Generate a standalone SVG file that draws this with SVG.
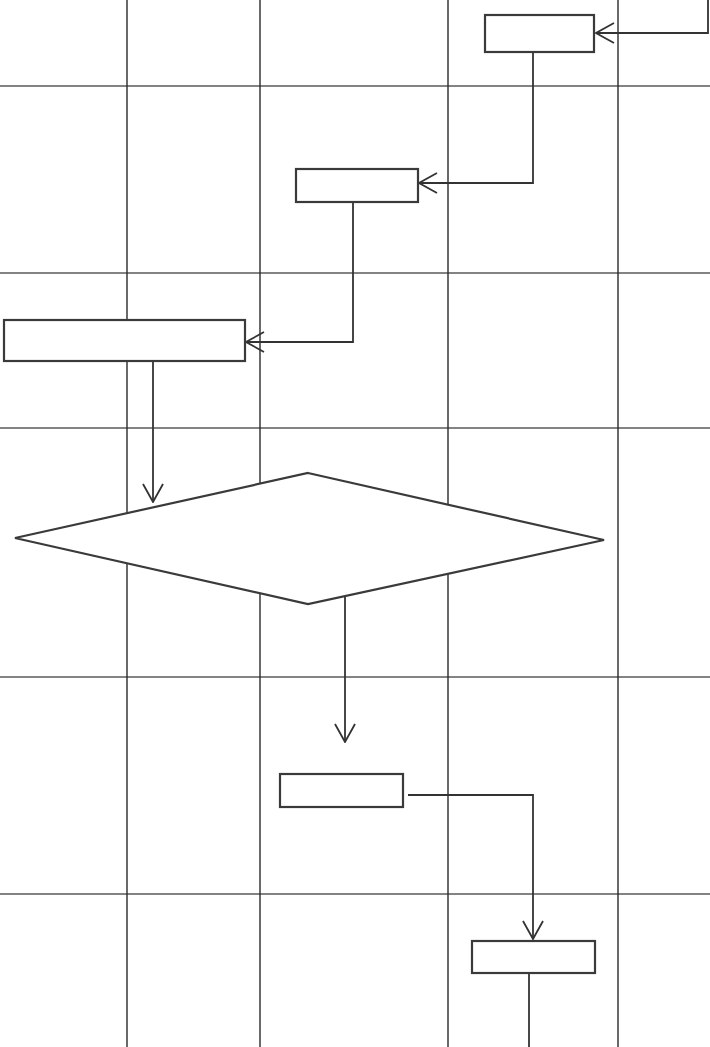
<svg xmlns="http://www.w3.org/2000/svg" width="710" height="1047" viewBox="0 0 710 1047">
<style>
.vg{stroke:#2a2a2a;stroke-width:1.4;fill:none}
.hg{stroke:#5a5a5a;stroke-width:1.3;fill:none}
.node{fill:#ffffff;stroke:#3a3a3a;stroke-width:2.2}
.conn{stroke:#333333;stroke-width:1.8;fill:none}
</style>
<defs>
<marker id="arr" viewBox="0 0 20 22" refX="19" refY="11" markerWidth="20" markerHeight="22" markerUnits="userSpaceOnUse" orient="auto">
<path d="M1,1 L19,11 L1,21" fill="none" stroke="#333333" stroke-width="1.8"/>
</marker>
</defs>
<rect width="710" height="1047" fill="#ffffff"/>
<g id="grid">
<line class="hg" x1="0" y1="86" x2="710" y2="86"/>
<line class="hg" x1="0" y1="273" x2="710" y2="273"/>
<line class="hg" x1="0" y1="428" x2="710" y2="428"/>
<line class="hg" x1="0" y1="677" x2="710" y2="677"/>
<line class="hg" x1="0" y1="894" x2="710" y2="894"/>
<line class="vg" x1="127" y1="0" x2="127" y2="1047"/>
<line class="vg" x1="260" y1="0" x2="260" y2="1047"/>
<line class="vg" x1="448" y1="0" x2="448" y2="1047"/>
<line class="vg" x1="618" y1="0" x2="618" y2="1047"/>
</g>
<g id="connectors">
<polyline class="conn" points="708,0 708,33 596,33" marker-end="url(#arr)"/>
<polyline class="conn" points="533,52 533,183 419,183" marker-end="url(#arr)"/>
<polyline class="conn" points="353,202 353,342 246,342" marker-end="url(#arr)"/>
<polyline class="conn" points="153,361 153,502" marker-end="url(#arr)"/>
<polyline class="conn" points="345,596 345,742" marker-end="url(#arr)"/>
<polyline class="conn" points="408,795 533,795 533,939" marker-end="url(#arr)"/>
<polyline class="conn" points="529,973 529,1047"/>
</g>
<g id="node1"><rect class="node" x="485" y="15" width="109" height="37"/></g>
<g id="node2"><rect class="node" x="296" y="169" width="122" height="33"/></g>
<g id="node3"><rect class="node" x="4" y="320" width="241" height="41"/></g>
<g id="node4"><polygon class="node" points="308,473 604,540 308,604 15,538"/></g>
<g id="node5"><rect class="node" x="280" y="774" width="123" height="33"/></g>
<g id="node6"><rect class="node" x="472" y="941" width="123" height="32"/></g>
</svg>
